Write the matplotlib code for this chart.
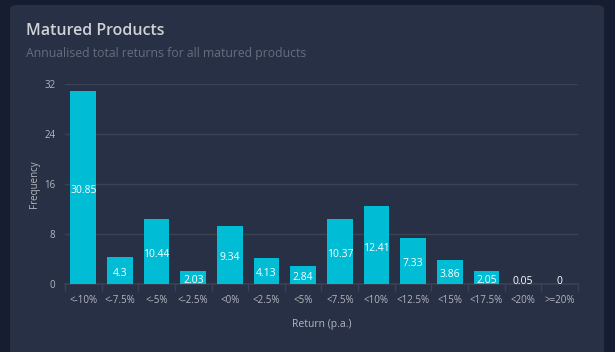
import matplotlib.pyplot as plt
from matplotlib.patches import FancyBboxPatch

categories = ['<-10%', '<-7.5%', '<-5%', '<-2.5%', '<0%', '<2.5%', '<5%',
              '<7.5%', '<10%', '<12.5%', '<15%', '<17.5%', '<20%', '>=20%']
values = [30.85, 4.3, 10.44, 2.03, 9.34, 4.13, 2.84,
          10.37, 12.41, 7.33, 3.86, 2.05, 0.05, 0]
y_ticks = [0, 8, 16, 24, 32]

page_bg = '#161d31'
card_bg = '#283046'
bar_color = '#00bcd4'
grid_color = '#3b4253'
text_color = '#b4b7bd'
muted = '#676d7d'

plt.rcParams['font.family'] = ['Open Sans', 'DejaVu Sans']

fig = plt.figure(figsize=(6.15, 3.52), dpi=100)
fig.patch.set_facecolor(page_bg)

# card background
card = FancyBboxPatch((10 / 615, -0.05), 594 / 615, 1 - 5 / 352 + 0.05,
                      boxstyle='round,pad=0,rounding_size=0.012',
                      transform=fig.transFigure, facecolor=card_bg,
                      edgecolor='none', zorder=-5)
fig.patches.append(card)

fig.text(26 / 615, 1 - 31 / 352, 'Matured Products', color='#d0d2d6',
         fontsize=11.5, fontweight='semibold', va='center', ha='left')
fig.text(26 / 615, 1 - 53 / 352, 'Annualised total returns for all matured products',
         color=muted, fontsize=8.8, va='center', ha='left')

ax = fig.add_axes([65 / 615, 1 - 284 / 352, 513 / 615, 200 / 352])
ax.set_facecolor('none')
x = list(range(len(categories)))
ax.bar(x, values, width=0.7, color=bar_color, zorder=3)

for i, v in enumerate(values):
    y = max(v / 2 - 0.45, 0.4)
    ax.text(i, y, f'{v:g}', color='white', fontsize=7.5,
            ha='center', va='center', zorder=4)

ax.set_xlim(-0.5, len(categories) - 0.5)
ax.set_ylim(0, 32)
ax.set_yticks(y_ticks)
ax.set_xticks(x)
ax.set_xticklabels(categories)
ax.set_xticks([i + 0.5 for i in range(-1, len(categories))], minor=True)
ax.tick_params(axis='x', which='major', length=0, colors=text_color,
               labelsize=7, pad=8)
ax.tick_params(axis='x', which='minor', length=5, color=grid_color, width=1)
ax.tick_params(axis='y', length=0, colors=text_color, labelsize=7, pad=7)
ax.yaxis.grid(True, color=grid_color, linewidth=1)
ax.set_axisbelow(True)
for side in ['top', 'right', 'left']:
    ax.spines[side].set_visible(False)
ax.spines['bottom'].set_color(grid_color)
ax.spines['bottom'].set_linewidth(1.2)

ax.set_xlabel('Return (p.a.)', color=text_color, fontsize=7.5, labelpad=9)
ax.set_ylabel('Frequency', color=text_color, fontsize=7, labelpad=3)

fig.savefig('out.png', dpi=100, facecolor=page_bg)
